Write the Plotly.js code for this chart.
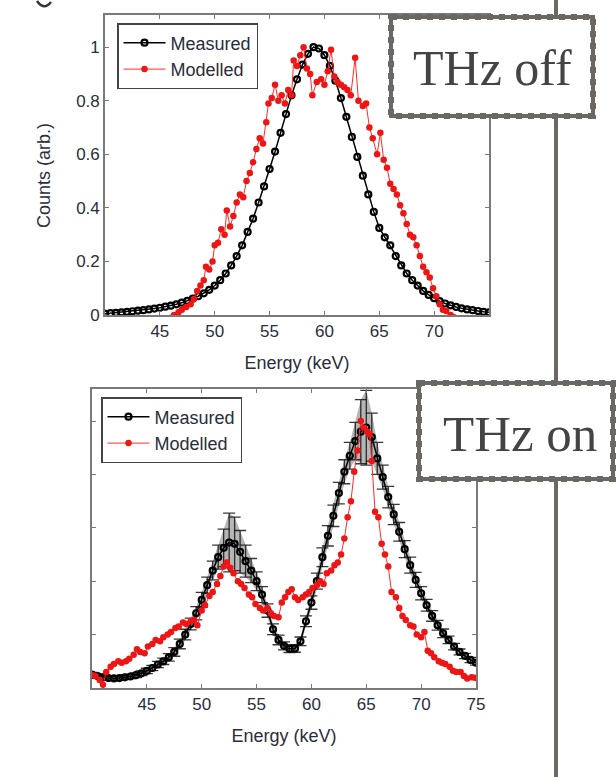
<!DOCTYPE html>
<html>
<head>
<meta charset="utf-8">
<script src="https://cdn.plot.ly/plotly-3.0.1.min.js"></script>
<style>html,body{margin:0;padding:0;background:#fff;}#chart{width:616px;height:777px;}</style>
</head>
<body>
<div id="chart"></div>
<script>
// ---------- DATA ----------
// THz off : measured (black)
const energyMeasOff = [40,40.5,41,41.5,42,42.5,43,43.5,44,44.5,45,45.5,46,46.5,47,47.5,48,48.5,49,49.5,50,50.5,51,51.5,52,52.5,53,53.5,54,54.5,55,55.5,56,56.5,57,57.5,58,58.5,59,59.5,60,60.5,61,61.5,62,62.5,63,63.5,64,64.5,65,65.5,66,66.5,67,67.5,68,68.5,69,69.5,70,70.5,71,71.5,72,72.5,73,73.5,74,74.5,75];
const countsMeasOff = [0.005,0.007,0.008,0.010,0.012,0.014,0.016,0.018,0.021,0.024,0.027,0.031,0.035,0.040,0.046,0.053,0.061,0.070,0.081,0.094,0.11,0.13,0.155,0.185,0.22,0.26,0.31,0.36,0.42,0.48,0.545,0.61,0.68,0.75,0.82,0.88,0.935,0.975,1.0,0.995,0.97,0.93,0.875,0.81,0.74,0.665,0.59,0.52,0.45,0.385,0.325,0.29,0.26,0.22,0.185,0.155,0.13,0.11,0.09,0.075,0.063,0.052,0.043,0.036,0.03,0.025,0.021,0.018,0.015,0.012,0.01];
// THz off : modelled (red)
const energyModOff = [46.0,46.3,46.7,47.0,47.4,47.8,48.1,48.4,48.7,49.0,49.2,49.5,49.8,50.0,50.3,50.6,50.9,51.1,51.4,51.7,52.0,52.3,52.6,52.9,53.2,53.5,53.8,54.1,54.4,54.7,54.9,55.2,55.5,55.8,56.1,56.4,56.7,57.0,57.2,57.5,57.8,58.1,58.4,58.7,58.9,59.3,59.7,60.0,60.3,60.6,60.9,61.2,61.5,61.8,62.1,62.4,62.8,63.1,63.5,63.8,64.1,64.4,64.8,65.1,65.4,65.7,66.0,66.3,66.6,66.9,67.2,67.5,67.8,68.1,68.4,68.7,69.0,69.3,69.6,69.9,70.2,70.5,70.8,71.1,71.5,71.8];
const countsModOff = [-0.01,0.0,0.01,0.02,0.03,0.04,0.06,0.09,0.11,0.13,0.18,0.17,0.2,0.26,0.27,0.32,0.30,0.39,0.33,0.37,0.42,0.45,0.44,0.50,0.53,0.57,0.62,0.66,0.64,0.72,0.79,0.81,0.86,0.80,0.82,0.79,0.84,0.82,0.95,0.93,0.97,1.0,0.92,0.90,0.82,0.87,0.88,0.86,0.91,0.99,0.89,0.87,0.86,0.85,0.84,0.82,0.96,0.80,0.78,0.79,0.70,0.66,0.60,0.68,0.58,0.55,0.49,0.47,0.45,0.41,0.38,0.34,0.30,0.29,0.26,0.22,0.18,0.16,0.14,0.10,0.07,0.04,0.02,0.015,0.0,-0.008];

// THz on : measured (black) with error
const energyMeasOn = [40,40.5,41,41.5,42,42.5,43,43.5,44,44.5,45,45.5,46,46.5,47,47.5,48,48.5,49,49.5,50,50.5,51,51.5,52,52.5,53,53.5,54,54.5,55,55.5,56,56.5,57,57.5,58,58.5,59,59.5,60,60.5,61,61.5,62,62.5,63,63.5,64,64.5,65,65.5,66,66.5,67,67.5,68,68.5,69,69.5,70,70.5,71,71.5,72,72.5,73,73.5,74,74.5,75];
const countsMeasOn = [0.05,0.045,0.04,0.037,0.036,0.037,0.04,0.043,0.048,0.055,0.064,0.075,0.088,0.10,0.115,0.135,0.165,0.2,0.24,0.28,0.33,0.385,0.44,0.49,0.525,0.545,0.54,0.51,0.475,0.44,0.40,0.35,0.29,0.22,0.18,0.158,0.147,0.148,0.175,0.25,0.32,0.40,0.49,0.57,0.645,0.73,0.81,0.87,0.925,0.96,0.975,0.94,0.86,0.79,0.715,0.65,0.585,0.52,0.46,0.405,0.355,0.31,0.27,0.235,0.205,0.18,0.155,0.135,0.12,0.105,0.095];
const errMeasOn = [0.008,0.008,0.008,0.008,0.008,0.008,0.008,0.008,0.009,0.009,0.01,0.01,0.012,0.012,0.014,0.016,0.018,0.02,0.022,0.025,0.028,0.03,0.035,0.045,0.07,0.11,0.10,0.08,0.06,0.045,0.035,0.03,0.025,0.02,0.018,0.015,0.014,0.014,0.016,0.02,0.025,0.03,0.035,0.038,0.04,0.04,0.045,0.05,0.07,0.12,0.14,0.09,0.06,0.045,0.04,0.038,0.035,0.032,0.03,0.028,0.025,0.022,0.02,0.018,0.016,0.014,0.012,0.011,0.01,0.01,0.009];
// THz on : modelled (red)
const energyModOn = [40.0,40.3,40.7,41.0,41.3,41.7,42.0,42.4,42.7,43.1,43.4,43.8,44.1,44.4,44.8,45.1,45.5,45.8,46.2,46.5,46.9,47.2,47.6,47.9,48.3,48.6,49.0,49.3,49.6,50.0,50.3,50.7,51.0,51.4,51.7,52.0,52.3,52.6,52.9,53.3,53.6,53.9,54.3,54.6,54.9,55.3,55.6,56.0,56.3,56.6,57.0,57.3,57.6,57.9,58.2,58.5,58.8,59.2,59.5,59.8,60.1,60.5,60.8,61.1,61.4,61.8,62.1,62.4,62.7,63.0,63.3,63.6,63.9,64.2,64.5,64.8,65.1,65.3,65.5,65.8,66.1,66.4,66.7,67.0,67.3,67.7,68.0,68.3,68.6,69.0,69.3,69.6,70.0,70.3,70.6,70.9,71.2,71.6,71.9,72.2,72.6,72.9,73.2,73.6,73.9,74.2,74.6,74.9];
const countsModOn = [0.05,0.045,0.03,0.012,0.06,0.08,0.09,0.10,0.095,0.10,0.11,0.125,0.145,0.135,0.13,0.155,0.165,0.18,0.175,0.19,0.2,0.21,0.225,0.23,0.245,0.24,0.25,0.255,0.235,0.29,0.31,0.345,0.36,0.39,0.42,0.455,0.47,0.45,0.43,0.40,0.39,0.375,0.35,0.34,0.315,0.30,0.29,0.30,0.28,0.27,0.265,0.32,0.34,0.36,0.37,0.34,0.33,0.34,0.35,0.36,0.375,0.385,0.40,0.39,0.43,0.44,0.46,0.47,0.50,0.56,0.64,0.70,0.81,0.89,1.0,0.975,0.96,0.95,0.85,0.66,0.64,0.54,0.50,0.455,0.36,0.34,0.30,0.27,0.255,0.235,0.23,0.20,0.19,0.21,0.14,0.13,0.115,0.10,0.095,0.09,0.08,0.065,0.06,0.06,0.045,0.036,0.04,0.038];

// Ticks and labels
const energyTicksOff = [45,50,55,60,65,70];
const energyTicksOn = [45,50,55,60,65,70,75];
const countTicks = [0,0.2,0.4,0.6,0.8,1];
const countTickLabels = ['0','0.2','0.4','0.6','0.8','1'];
const seriesNames = ['Measured','Modelled'];
const panelLabels = ['THz off','THz on'];
const xTitle = 'Energy (keV)';
const yTitle = 'Counts (arb.)';

// ---------- LAYOUT HELPERS ----------
const W = 616, H = 777;
const px = x => x / W;
const py = y => 1 - y / H;
const sans = 'Liberation Sans, Arial, sans-serif';
const txtCol = '#2a2d3a';
const frameCol = '#7a7a7a';
const boxCol = '#6b6762';

const blackMarker = {symbol:'circle-open', size:6, color:'#000', line:{color:'#000', width:2.2}};
const redMarker = {symbol:'circle', size:6.5, color:'#ee1515', line:{color:'#ee1515', width:0}};

// gray error envelope for the THz-on measured curve (derived from data arrays)
const upperOn = countsMeasOn.map((v, i) => v + errMeasOn[i]);
const lowerOn = countsMeasOn.map((v, i) => v - errMeasOn[i]);

const traces = [
  {x:energyMeasOff, y:countsMeasOff, xaxis:'x', yaxis:'y', name:seriesNames[0], legend:'legend',
   mode:'lines+markers', line:{color:'#000', width:1.5}, marker:blackMarker},
  {x:energyModOff, y:countsModOff, xaxis:'x', yaxis:'y', name:seriesNames[1], legend:'legend',
   mode:'lines+markers', line:{color:'#ff2a2a', width:1}, marker:redMarker},
  {x:energyMeasOn, y:lowerOn, xaxis:'x2', yaxis:'y2', mode:'lines', line:{width:0, color:'rgba(0,0,0,0)'},
   showlegend:false, hoverinfo:'skip', legend:'legend2'},
  {x:energyMeasOn, y:upperOn, xaxis:'x2', yaxis:'y2', mode:'lines', line:{width:0, color:'rgba(0,0,0,0)'},
   fill:'tonexty', fillcolor:'rgba(110,110,110,0.5)', showlegend:false, hoverinfo:'skip', legend:'legend2'},
  {x:energyMeasOn, y:countsMeasOn, xaxis:'x2', yaxis:'y2', name:seriesNames[0], legend:'legend2',
   mode:'lines+markers', line:{color:'#000', width:1.5}, marker:blackMarker,
   error_y:{type:'data', array:errMeasOn, visible:true, color:'rgba(20,20,20,0.85)', thickness:1.3, width:6}},
  {x:energyModOn, y:countsModOn, xaxis:'x2', yaxis:'y2', name:seriesNames[1], legend:'legend2',
   mode:'lines+markers', line:{color:'#ff2a2a', width:1}, marker:redMarker}
];

function xAxis(domain, ticks, anchor){
  return {domain:domain, range:[40,75], anchor:anchor, tickvals:ticks, ticktext:ticks.map(String),
    ticks:'inside', ticklen:4, tickwidth:1, tickcolor:frameCol, showline:true, mirror:'ticks',
    linecolor:frameCol, linewidth:1.8, showgrid:false, zeroline:false,
    tickfont:{family:sans, size:17, color:txtCol},
    title:{text:xTitle, font:{family:sans, size:18, color:txtCol}, standoff:16}};
}
function yAxis(domain, anchor, labels){
  return {domain:domain, range:[0,1.12], anchor:anchor, tickvals:countTicks, ticktext:countTickLabels,
    showticklabels:labels, ticks:'inside', ticklen:4, tickwidth:1, tickcolor:frameCol, showline:true, mirror:'ticks',
    linecolor:frameCol, linewidth:1.8, showgrid:false, zeroline:false,
    tickfont:{family:sans, size:17, color:txtCol}};
}
function legendAt(x, y){
  return {x:px(x), y:py(y), xanchor:'left', yanchor:'top', bgcolor:'#fff', bordercolor:'#444',
    borderwidth:1.5, font:{family:sans, size:18, color:txtCol}, itemwidth:42, tracegroupgap:0,
    traceorder:'normal'};
}

const layout = {
  width:W, height:H, margin:{l:0, r:0, t:0, b:0}, paper_bgcolor:'#fff', plot_bgcolor:'#fff',
  showlegend:true,
  xaxis: xAxis([px(105), px(489)], energyTicksOff, 'y'),
  yaxis: yAxis([py(315), py(15)], 'x', true),
  xaxis2: xAxis([px(92), px(476)], energyTicksOn, 'y2'),
  yaxis2: yAxis([py(688), py(389)], 'x2', false),
  legend: legendAt(117, 23),
  legend2: legendAt(101, 397),
  shapes: [
    {type:'line', xref:'paper', yref:'paper', x0:px(556), x1:px(556), y0:1, y1:0, line:{color:boxCol, width:4}, layer:'above'},
    {type:'rect', xref:'paper', yref:'paper', x0:px(391), x1:px(593), y0:py(17), y1:py(116), fillcolor:'#fff', line:{color:boxCol, width:4}, layer:'above'},
    {type:'rect', xref:'paper', yref:'paper', x0:px(391), x1:px(593), y0:py(17), y1:py(116), line:{color:boxCol, width:6, dash:'dot'}, layer:'above'},
    {type:'rect', xref:'paper', yref:'paper', x0:px(419), x1:px(613), y0:py(383), y1:py(479), fillcolor:'#fff', line:{color:boxCol, width:4}, layer:'above'},
    {type:'rect', xref:'paper', yref:'paper', x0:px(419), x1:px(613), y0:py(383), y1:py(479), line:{color:boxCol, width:6, dash:'dot'}, layer:'above'},
    {type:'path', xref:'paper', yref:'paper', path:`M ${px(37)},${py(1)} Q ${px(44)},${py(11)} ${px(51)},${py(2)}`, line:{color:'#333', width:2.5}, layer:'above'}
  ],
  annotations: [
    {xref:'paper', yref:'paper', x:px(492), y:py(68), text:panelLabels[0], showarrow:false, xanchor:'center', yanchor:'middle',
     font:{family:'Liberation Serif, Times New Roman, serif', size:50, color:'#444'}},
    {xref:'paper', yref:'paper', x:px(520), y:py(434), text:panelLabels[1], showarrow:false, xanchor:'center', yanchor:'middle',
     font:{family:'Liberation Serif, Times New Roman, serif', size:51, color:'#444'}},
    {xref:'paper', yref:'paper', x:px(44), y:py(176), text:yTitle, textangle:-90, showarrow:false, xanchor:'center', yanchor:'middle',
     font:{family:sans, size:18, color:txtCol}}
  ]
};

Plotly.newPlot('chart', traces, layout, {staticPlot:true, displayModeBar:false});
</script>
</body>
</html>
